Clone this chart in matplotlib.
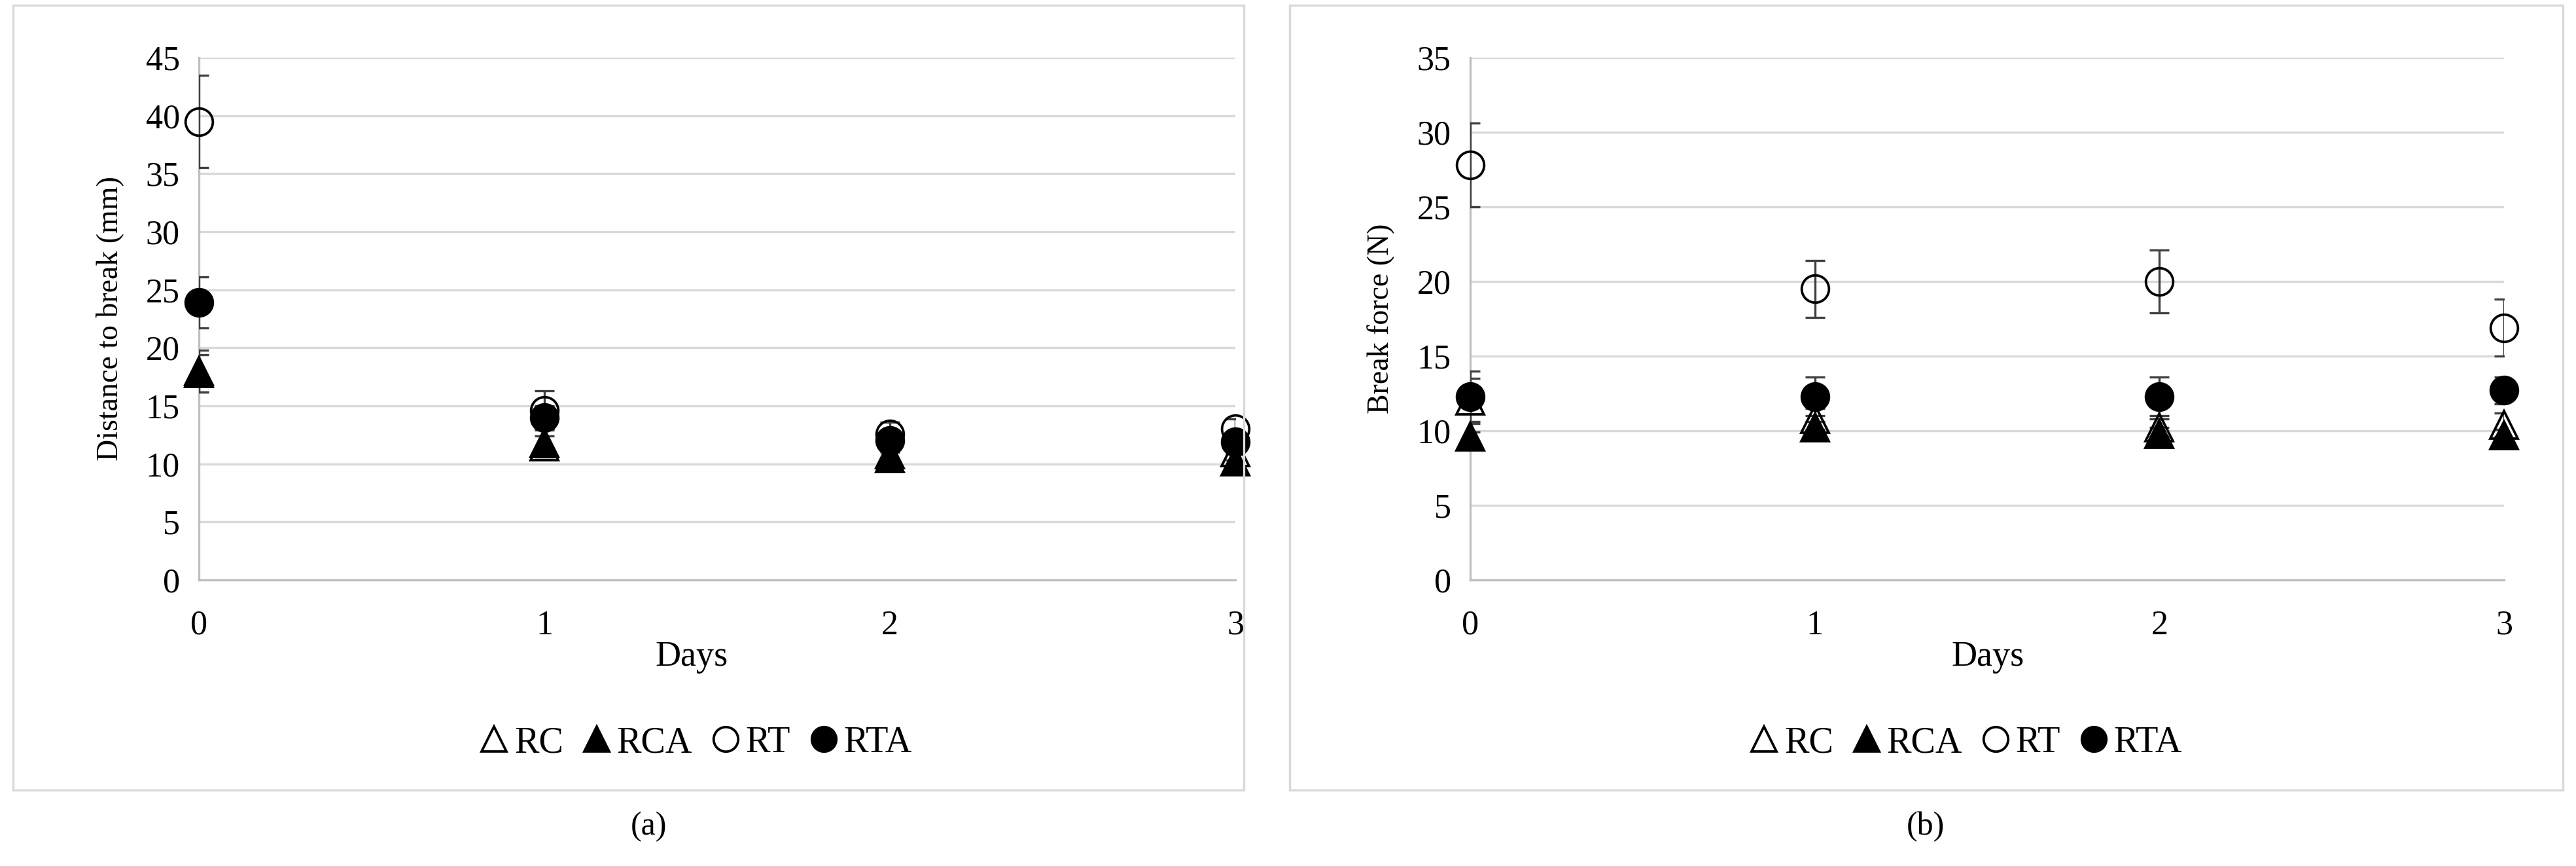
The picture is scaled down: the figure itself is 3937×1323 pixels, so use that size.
import matplotlib
matplotlib.use('Agg')
import matplotlib.pyplot as plt
from matplotlib.patches import Rectangle

plt.rcParams['font.family'] = ['Liberation Serif', 'DejaVu Serif']

days = [0, 1, 2, 3]
series = ['RC', 'RCA', 'RT', 'RTA']

# (a) distance to break (mm)
dist_rc = [17.8, 11.5, 10.8, 11.0]
dist_rc_err = [1.6, 0.9, 0.6, 0.7]
dist_rca = [18.0, 11.8, 10.5, 10.2]
dist_rca_err = [1.8, 1.2, 0.5, 0.6]
dist_rt = [39.5, 14.6, 12.6, 13.0]
dist_rt_err = [4.0, 1.7, 1.0, 0.9]
dist_rta = [23.9, 14.0, 12.0, 11.9]
dist_rta_err = [2.2, 1.0, 0.8, 0.8]

# (b) break force (N)
force_rc = [12.0, 10.8, 10.2, 10.4]
force_rc_err = [1.5, 0.7, 0.6, 0.8]
force_rca = [9.6, 10.2, 9.8, 9.7]
force_rca_err = [0.3, 0.4, 0.4, 0.4]
force_rt = [27.8, 19.5, 20.0, 16.9]
force_rt_err = [2.8, 1.9, 2.1, 1.9]
force_rta = [12.3, 12.3, 12.3, 12.7]
force_rta_err = [1.7, 1.3, 1.3, 0.9]

styles = {
    'RC': dict(marker='^', mfc='none'),
    'RCA': dict(marker='^', mfc='black'),
    'RT': dict(marker='o', mfc='none'),
    'RTA': dict(marker='o', mfc='black'),
}

W, H = 3937, 1323
fig = plt.figure(figsize=(W / 300, H / 300), dpi=300)


def draw_panel(ax, values, errors, ymax, ylabel):
    for name, v, e in zip(series, values, errors):
        ax.errorbar(days, v, yerr=e, fmt='none', ecolor='#404040', elinewidth=0.8,
                    capsize=3.5, capthick=0.8, zorder=3)
    for name, v in zip(series, values):
        ax.plot(days, v, linestyle='none', markersize=10, mec='black', mew=0.9,
                label=name, zorder=4, clip_on=False, **styles[name])
    ax.set_xlim(0, 3)
    ax.set_ylim(0, ymax)
    ax.set_xticks(days)
    ax.set_yticks(range(0, ymax + 1, 5))
    ax.yaxis.grid(True, color='#d9d9d9', linewidth=0.8)
    ax.set_axisbelow(True)
    for s in ['top', 'right']:
        ax.spines[s].set_visible(False)
    ax.spines['left'].set_color('#bfbfbf')
    ax.spines['bottom'].set_color('#bfbfbf')
    ax.spines['left'].set_linewidth(0.8)
    ax.spines['bottom'].set_linewidth(0.8)
    ax.tick_params(axis='both', length=0, labelsize=12.5, colors='black')
    ax.tick_params(axis='x', pad=11)
    ax.tick_params(axis='y', pad=7)
    ax.set_ylabel(ylabel, fontsize=11, labelpad=8)


ax1 = fig.add_axes([304 / W, 1 - 886 / H, (1888 - 304) / W, (886 - 88) / H])
draw_panel(ax1, [dist_rc, dist_rca, dist_rt, dist_rta],
           [dist_rc_err, dist_rca_err, dist_rt_err, dist_rta_err], 45, 'Distance to break (mm)')

ax2 = fig.add_axes([2247 / W, 1 - 886 / H, (3827 - 2247) / W, (886 - 88) / H])
draw_panel(ax2, [force_rc, force_rca, force_rt, force_rta],
           [force_rc_err, force_rca_err, force_rt_err, force_rta_err], 35, 'Break force (N)')

# x titles
fig.text(1057 / W, 1 - 1004 / H, 'Days', ha='center', va='center', fontsize=13)
fig.text(3038 / W, 1 - 1004 / H, 'Days', ha='center', va='center', fontsize=13)

# legends
for ax, cx in [(ax1, 1062), (ax2, 3003)]:
    handles, labels = ax.get_legend_handles_labels()
    fig.legend(handles, labels, loc='center', bbox_to_anchor=(cx / W, 1 - 1135 / H),
               ncol=4, frameon=False, fontsize=13.5, handlelength=0.9, handletextpad=0.1,
               columnspacing=0.45, markerscale=0.9)

# panel frames
for x0, x1 in [(20, 1901), (1971, 3917)]:
    fig.add_artist(Rectangle((x0 / W, 1 - 1207 / H), (x1 - x0) / W, (1207 - 8) / H,
                             transform=fig.transFigure, fill=False, edgecolor='#d9d9d9',
                             linewidth=0.8))

fig.text(992 / W, 1 - 1263 / H, '(a)', ha='center', va='center', fontsize=12)
fig.text(2943 / W, 1 - 1263 / H, '(b)', ha='center', va='center', fontsize=12)

fig.savefig('out.png', dpi=300)
